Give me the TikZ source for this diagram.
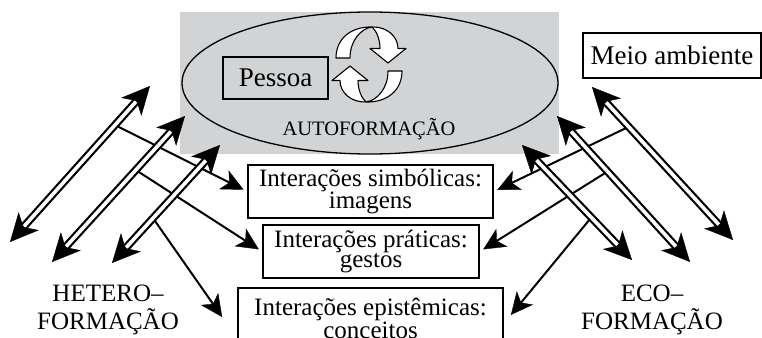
\documentclass[tikz,border=0pt]{standalone}
\usepackage{fontspec}
\setmainfont{Liberation Serif}
\usetikzlibrary{arrows.meta,calc,shapes.geometric}
\definecolor{fondgris}{RGB}{209,211,212}

\begin{document}
\begin{tikzpicture}[x=1pt,y=-1pt,
	boite/.style={draw,line width=1.7pt,inner sep=0pt,align=center,font=\fontsize{25}{20}\selectfont},
	grosse/.style={line width=8pt,{Stealth[length=28pt,width=27pt,inset=8pt,line width=0.4pt]}-{Stealth[length=28pt,width=27pt,inset=8pt,line width=0.4pt]}},
	creux/.style={line width=3.6pt,white,shorten <=21pt,shorten >=21pt},
	fine/.style={line width=2pt,shorten >=4pt,-{Stealth[length=22pt,width=21pt,inset=6pt,line width=0.4pt]}},
	titre/.style={align=center,font=\fontsize{25}{28}\selectfont},
	ruban/.style={draw,fill=white,line width=1.1pt,line join=round}]
				\useasboundingbox (0,0) rectangle (762,337);
				% Fond gris et ellipse
				\fill [fondgris] (180,12) rectangle (559,154);
				\node [ellipse,draw,line width=1.3pt,minimum width=376pt,minimum height=142pt] (auto) at (370,83) {};
				\node [anchor=base,font=\fontsize{20.5}{22}\selectfont] (autof) at (369,135) {AUTOFORMAÇÃO};
				\node [draw,line width=1.2pt,minimum width=105pt,minimum height=42pt,inner sep=0pt,font=\fontsize{27}{30}\selectfont] (pessoa) at (275.5,78) {Pessoa};
				% Flèches circulaires
				\foreach \r in {0,180}
					\draw [ruban,shift={(369,64.5)},rotate=\r] (-33,-6.5) -- (-19,-6.5) .. controls (-19,-24) and (-8,-36) .. (3,-37.5) .. controls (18,-38) and (29,-28) .. (29,-16) -- (37,-16) -- (19,-1.5) -- (1,-16) -- (11,-16) .. controls (11,-26) and (7,-34) .. (3,-37.5) .. controls (-18,-38) and (-33,-26) .. (-33,-6.5) -- cycle;
				\node [draw,line width=1.6pt,minimum width=178pt,minimum height=45pt,inner sep=0pt,font=\fontsize{27}{30}\selectfont] (meio) at (672,55.5) {Meio ambiente};
				% Interactions
				\node [boite,minimum width=245pt,minimum height=53pt] (simb) at (370.5,191.5) {Interações simbólicas:\\imagens};
				\node [boite,minimum width=216pt,minimum height=53pt] (prat) at (371,251.5) {Interações práticas:\\gestos};
				\node [boite,minimum width=265pt,minimum height=60pt] (epis) at (370.5,318) {Interações epistêmicas:\\conceitos};
				\node [titre] (hetero) at (108,310) {HETERO–\\FORMAÇÃO};
				\node [titre] (eco) at (652,310) {ECO–\\FORMAÇÃO};
				% Extrémités des flèches doubles
				\coordinate (hb1) at (10,242); \coordinate (hh1) at (150,86);
				\coordinate (hb2) at (52,262); \coordinate (hh2) at (185,116);
				\coordinate (hb3) at (112,263); \coordinate (hh3) at (220,145);
				\coordinate (eh1) at (592,87); \coordinate (eb1) at (733,240);
				\coordinate (eh2) at (557,116); \coordinate (eb2) at (690,262);
				\coordinate (eh3) at (522,145); \coordinate (eb3) at (632,260);
				% Flèches simples
				\draw [fine] ($(hh1)!0.25!(hb1)$) -- (simb.west);
				\draw [fine] ($(hh2)!0.37!(hb2)$) -- (prat.west);
				\draw [fine] ($(hh3)!0.62!(hb3)$) -- ($(epis.west)+(-12.7,2.3)$);
				\draw [fine] ($(eh1)!0.26!(eb1)$) -- (simb.east);
				\draw [fine] ($(eh2)!0.38!(eb2)$) -- (prat.east);
				\draw [fine] ($(eh3)!0.63!(eb3)$) -- ($(epis.east)+(4.5,0)$);
				% Flèches doubles
				\foreach \a/\b in {hb1/hh1,hb2/hh2,hb3/hh3,eh1/eb1,eh2/eb2,eh3/eb3}{
					\draw [grosse] (\a) -- (\b);
					\draw [creux] (\a) -- (\b);
				}
\end{tikzpicture}
\end{document}
